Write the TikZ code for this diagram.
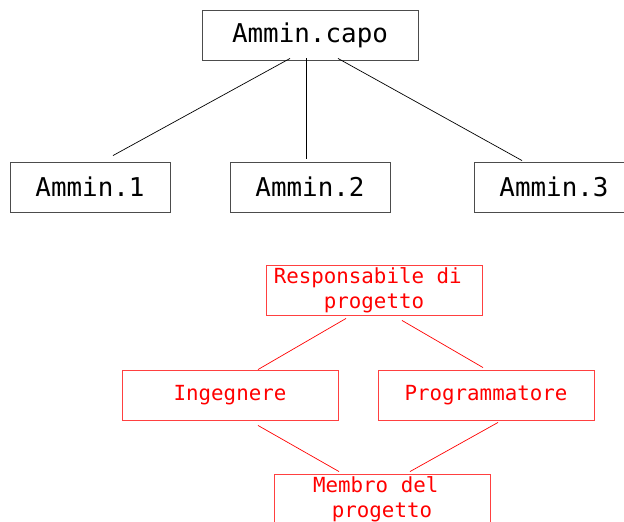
\documentclass[tikz,border=0pt]{standalone}
\usepackage{fontspec}
\usepackage{xcolor}
\usepackage{tikz}
\usetikzlibrary{positioning}
\newfontfamily\monobox{DejaVu Sans Mono}

\begin{document}
\begin{tikzpicture}[
    x=1pt, y=-1pt,
    box/.style={draw=black!70, line width=0.9pt, rectangle, minimum width=216pt, minimum height=50pt, inner sep=0pt, align=center, font=\monobox\fontsize{25.9}{31}\selectfont},
    smallbox/.style={box, minimum width=160pt},
    redbox/.style={draw=red!75, line width=0.9pt, text=red, rectangle, minimum width=216pt, minimum height=50pt, inner sep=0pt, align=center, font=\monobox\fontsize{20.8}{25}\selectfont},
    link/.style={black, line width=0.7pt},
    redlink/.style={red, line width=0.7pt}
]
    \useasboundingbox (0,0) rectangle (624,522);

    % Amministratori
    \node[box] (capo) at (310,35) {Ammin.capo};
    \node[smallbox] (amm1) at (90,187) {Ammin.1};
    \node[smallbox] (amm2) at (310,187) {Ammin.2};
    \node[smallbox] (amm3) at (554,187) {Ammin.3};

    \draw[link] ([xshift=-20,yshift=2]capo.south) -- ([xshift=23,yshift=6]amm1.north);
    \draw[link] ([xshift=-4,yshift=2]capo.south) -- ([xshift=-4,yshift=3]amm2.north);
    \draw[link] ([xshift=28,yshift=2]capo.south) -- ([xshift=-32,yshift=1]amm3.north);

    % Ruoli di progetto
    \node[redbox] (resp) at (374,290) {Responsabile di\hphantom{x}\\progetto};
    \node[redbox] (ing) at (230,395) {Ingegnere};
    \node[redbox] (prog) at (486,395) {Programmatore};
    \node[redbox] (membro) at (382,499) {Membro del\hphantom{x}\\progetto};

    \draw[redlink] ([xshift=-28,yshift=-3]resp.south) -- ([xshift=28]ing.north);
    \draw[redlink] ([xshift=28,yshift=-5]resp.south) -- ([xshift=-3,yshift=2]prog.north);
    \draw[redlink] ([xshift=28,yshift=-5]ing.south) -- ([xshift=-43,yshift=2]membro.north);
    \draw[redlink] ([xshift=12,yshift=-2]prog.south) -- ([xshift=28,yshift=2]membro.north);

\end{tikzpicture}
\end{document}
